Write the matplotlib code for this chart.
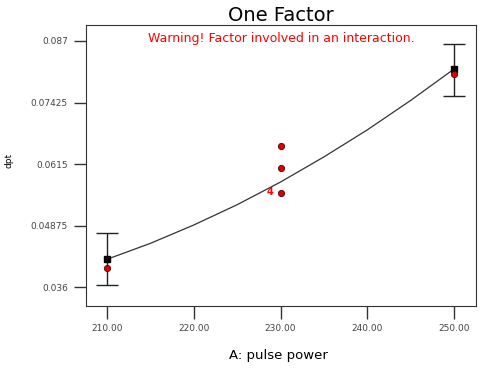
import numpy as np
import matplotlib.pyplot as plt

plt.rcParams['font.family'] = ['DejaVu Sans']

# design points (predicted mean) and error bars
x_pred = [210, 250]
y_pred = [0.0418, 0.0812]
y_lo = [0.0364, 0.0756]
y_hi = [0.0472, 0.0864]

# actual observations
x_obs = [210, 230, 230, 230, 250]
y_obs = [0.0401, 0.0652, 0.0607, 0.0555, 0.0802]

# model curve
x_curve = [210, 215, 220, 225, 230, 235, 240, 245, 250]
y_curve = [0.0418, 0.0451, 0.0489, 0.0531, 0.0578, 0.0630, 0.0686, 0.0747, 0.0812]

xticks = [210, 220, 230, 240, 250]
yticks = [0.036, 0.04875, 0.0615, 0.07425, 0.087]

fig = plt.figure(figsize=(4.8, 3.68), dpi=100)
ax = fig.add_axes([0.179, 0.168, 0.813, 0.764])

ax.plot(x_curve, y_curve, color='#333333', lw=0.9)
yerr = [np.array(y_pred) - np.array(y_lo), np.array(y_hi) - np.array(y_pred)]
ax.errorbar(x_pred, y_pred, yerr=yerr, fmt='none', ecolor='#222222',
            elinewidth=1, capsize=8, capthick=1)
ax.plot(x_pred, y_pred, 's', color='black', ms=5)
ax.plot(x_obs, y_obs, 'o', mfc='#dd0000', mec='#550000', ms=4.5, mew=0.6)
ax.text(229.2, 0.0557, '4', color='red', fontsize=7, fontweight='bold',
        ha='right', va='center')

ax.set_xlim(207.58, 252.54)
ax.set_ylim(0.0321, 0.0903)
ax.set_xticks(xticks)
ax.set_xticklabels(['%.2f' % v for v in xticks])
ax.set_yticks(yticks)
ax.set_yticklabels(['0.036', '0.04875', '0.0615', '0.07425', '0.087'])
ax.tick_params(direction='out', length=9, width=1, labelsize=6.5,
               labelcolor='#444444', color='#333333', pad=4)
for s in ax.spines.values():
    s.set_color('#333333')

ax.set_title('One Factor', fontsize=14, pad=3)
ax.text(0.5, 0.975, 'Warning! Factor involved in an interaction.', color='red',
        fontsize=9, ha='center', va='top', transform=ax.transAxes)
fig.text(0.58, 0.033, 'A: pulse power', fontsize=9.5, ha='center', va='center')
fig.text(0.018, 0.565, 'dpt', rotation=90, fontsize=6.5, ha='center', va='center')

fig.savefig('out.png', dpi=100)
